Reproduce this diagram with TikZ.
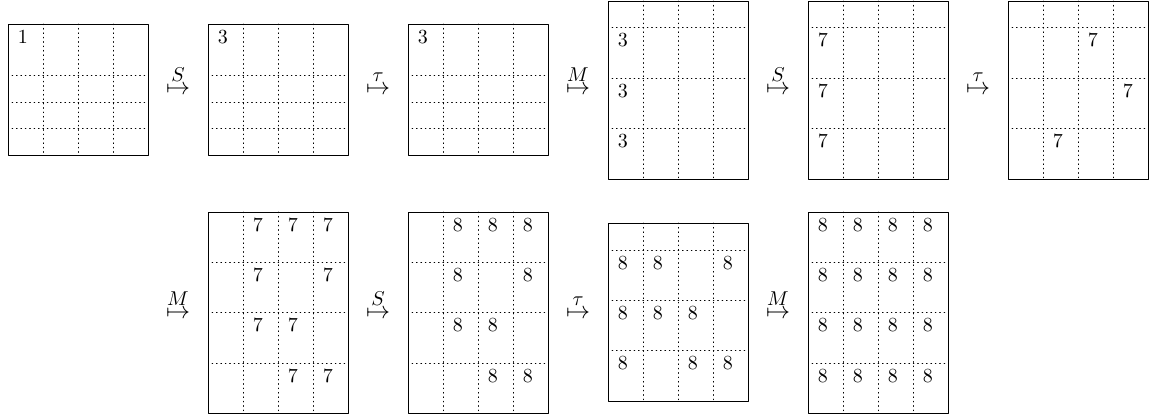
\documentclass[tikz,border=0pt]{standalone}
\usepackage{amsmath}
\tikzset{grid/.style={dash pattern=on .4pt off 1.8pt},
	num/.style={anchor=base west, inner sep=0pt},
	step label/.style={anchor=base, inner sep=0pt, font=\large}}
% box: left x, top y, bottom y, dotted row lines
\newcommand\numbox[4]{%
	\draw (#1,#2) rectangle (#1+140,#3);
	\foreach \v in {35,70,105} \draw[grid] (#1+\v,#2)--(#1+\v,#3);
	\foreach \h in {#4} \draw[grid] (#1+4,\h)--(#1+137,\h);
}
% entries: left x, digit, list of column/row top
\newcommand\putnums[3]{%
	\foreach \c/\r in {#3} \node[num] at (#1+35*\c-25.5,\r+20) {#2};
}
\begin{document}
\begin{tikzpicture}[x=.5pt,y=-.5pt,line join=round,line cap=round]
	\useasboundingbox (0,0) rectangle (1151,416);
	% first row
	\numbox{8}{24}{155}{75,102,128}
	\numbox{208}{24}{155}{75,102,128}
	\numbox{408}{24}{155}{75,102,128}
	\numbox{608}{1}{179}{27,78,128}
	\numbox{808}{1}{179}{27,78,128}
	\numbox{1008}{1}{179}{27,78,128}
	\putnums{8}{1}{1/24}
	\putnums{208}{3}{1/24}
	\putnums{408}{3}{1/24}
	\putnums{608}{3}{1/27,1/78,1/128}
	\putnums{808}{7}{1/27,1/78,1/128}
	\putnums{1008}{7}{3/27,4/78,2/128}
	% second row
	\numbox{208}{212}{413}{262,312,363}
	\numbox{408}{212}{413}{262,312,363}
	\numbox{608}{223}{401}{250,300,350}
	\numbox{808}{212}{413}{262,312,363}
	\putnums{208}{7}{2/212,3/212,4/212,2/262,4/262,2/312,3/312,3/363,4/363}
	\putnums{408}{8}{2/212,3/212,4/212,2/262,4/262,2/312,3/312,3/363,4/363}
	\putnums{608}{8}{1/250,2/250,4/250,1/300,2/300,3/300,1/350,3/350,4/350}
	\putnums{808}{8}{1/212,2/212,3/212,4/212,1/262,2/262,3/262,4/262,
		1/312,2/312,3/312,4/312,1/363,2/363,3/363,4/363}
	% maps
	\foreach \n/\x/\y/\l in {a1/178/95/S,a2/378/95/\tau,a3/578/95/M,a4/778/95/S,a5/978/95/\tau,
		a6/178/319/M,a7/378/319/S,a8/578/319/\tau,a9/778/319/M}
	\node[step label] (\n) at (\x,\y) {$\stackrel{\text{\normalsize$\l$}}{\mapsto}$};
\end{tikzpicture}
\end{document}
